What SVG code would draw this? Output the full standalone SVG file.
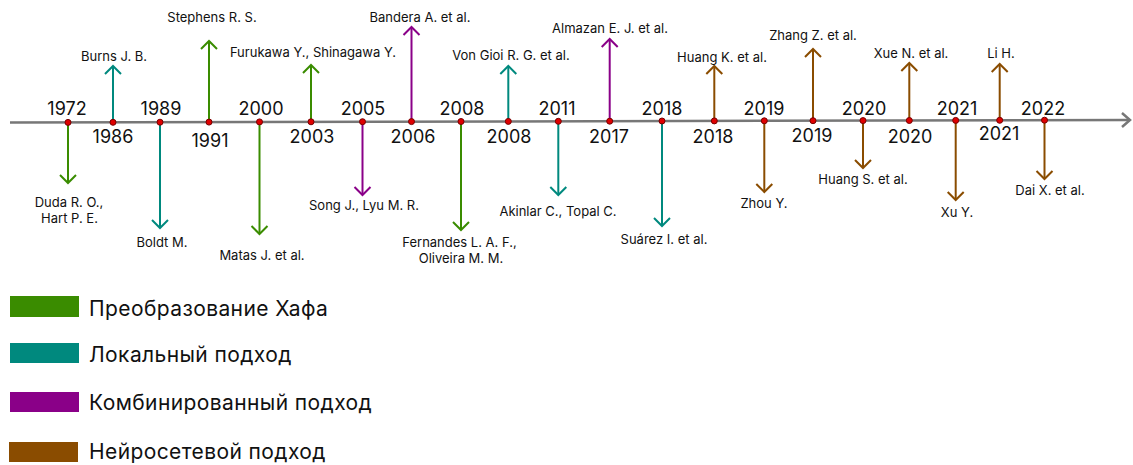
<svg xmlns="http://www.w3.org/2000/svg" width="1133" height="465" viewBox="0 0 1133 465">
<style>
text{font-family:Inter,"Noto Sans","Liberation Sans",sans-serif;fill:#111}
.yr{font-size:18px;text-anchor:middle}
.lb{font-size:13px;text-anchor:middle}
.lg{font-size:21px;letter-spacing:0.4px}
.a{stroke-width:2;fill:none}
.g{stroke:#3a8c00}.t{stroke:#00897e}.p{stroke:#8a0088}.b{stroke:#8a4c00}
.dot{fill:#e00000;stroke:#700;stroke-width:1}
</style>
<defs>
<marker id="mg" markerUnits="userSpaceOnUse" viewBox="-12 -12 24 24" markerWidth="24" markerHeight="24" refX="0" refY="0" orient="auto"><path d="M-8,-8 L0,0 L-8,8" fill="none" stroke="#3a8c00" stroke-width="2"/></marker>
<marker id="mt" markerUnits="userSpaceOnUse" viewBox="-12 -12 24 24" markerWidth="24" markerHeight="24" refX="0" refY="0" orient="auto"><path d="M-8,-8 L0,0 L-8,8" fill="none" stroke="#00897e" stroke-width="2"/></marker>
<marker id="mp" markerUnits="userSpaceOnUse" viewBox="-12 -12 24 24" markerWidth="24" markerHeight="24" refX="0" refY="0" orient="auto"><path d="M-8,-8 L0,0 L-8,8" fill="none" stroke="#8a0088" stroke-width="2"/></marker>
<marker id="mb" markerUnits="userSpaceOnUse" viewBox="-12 -12 24 24" markerWidth="24" markerHeight="24" refX="0" refY="0" orient="auto"><path d="M-8,-8 L0,0 L-8,8" fill="none" stroke="#8a4c00" stroke-width="2"/></marker>
<marker id="mx" markerUnits="userSpaceOnUse" viewBox="-12 -12 24 24" markerWidth="24" markerHeight="24" refX="0" refY="0" orient="auto"><path d="M-8,-7 L0,0 L-8,7" fill="none" stroke="#777" stroke-width="2.5"/></marker>
</defs>
<g id="connectors">
<line x1="10" y1="122.5" x2="1130" y2="120" stroke="#777" stroke-width="2.5" marker-end="url(#mx)"/>
<line class="a g" x1="68" y1="122.4" x2="68" y2="183" marker-end="url(#mg)"/>
<line class="a t" x1="113" y1="122.3" x2="113" y2="66" marker-end="url(#mt)"/>
<line class="a t" x1="160" y1="122.2" x2="160" y2="228" marker-end="url(#mt)"/>
<line class="a g" x1="209" y1="122.1" x2="209" y2="41" marker-end="url(#mg)"/>
<line class="a g" x1="259.5" y1="121.9" x2="259.5" y2="234" marker-end="url(#mg)"/>
<line class="a g" x1="311" y1="121.8" x2="311" y2="65" marker-end="url(#mg)"/>
<line class="a p" x1="362.5" y1="121.7" x2="362.5" y2="195" marker-end="url(#mp)"/>
<line class="a p" x1="411.5" y1="121.6" x2="411.5" y2="27" marker-end="url(#mp)"/>
<line class="a g" x1="461" y1="121.5" x2="461" y2="230" marker-end="url(#mg)"/>
<line class="a t" x1="508.3" y1="121.4" x2="508.3" y2="66" marker-end="url(#mt)"/>
<line class="a t" x1="558.3" y1="121.3" x2="558.3" y2="195" marker-end="url(#mt)"/>
<line class="a p" x1="609.7" y1="121.2" x2="609.7" y2="39" marker-end="url(#mp)"/>
<line class="a t" x1="662" y1="121" x2="662" y2="226" marker-end="url(#mt)"/>
<line class="a b" x1="714.3" y1="120.9" x2="714.3" y2="66" marker-end="url(#mb)"/>
<line class="a b" x1="764.3" y1="120.8" x2="764.3" y2="192" marker-end="url(#mb)"/>
<line class="a b" x1="813" y1="120.7" x2="813" y2="49" marker-end="url(#mb)"/>
<line class="a b" x1="863" y1="120.6" x2="863" y2="168" marker-end="url(#mb)"/>
<line class="a b" x1="909.3" y1="120.5" x2="909.3" y2="63" marker-end="url(#mb)"/>
<line class="a b" x1="955.7" y1="120.4" x2="955.7" y2="200" marker-end="url(#mb)"/>
<line class="a b" x1="999.7" y1="120.3" x2="999.7" y2="64" marker-end="url(#mb)"/>
<line class="a b" x1="1044.5" y1="120.2" x2="1044.5" y2="179" marker-end="url(#mb)"/>
</g>
<g id="n1972"><circle class="dot" cx="68" cy="122.4" r="3"/><text class="yr" x="67" y="115">1972</text><text class="lb" x="69" y="207">Duda R. O.,</text><text class="lb" x="69.5" y="223">Hart P. E.</text></g>
<g id="n1986"><circle class="dot" cx="113" cy="122.3" r="3"/><text class="yr" x="113" y="143">1986</text><text class="lb" x="114" y="61">Burns J. B.</text></g>
<g id="n1989"><circle class="dot" cx="160" cy="122.2" r="3"/><text class="yr" x="161" y="115">1989</text><text class="lb" x="162" y="247">Boldt M.</text></g>
<g id="n1991"><circle class="dot" cx="209" cy="122.1" r="3"/><text class="yr" x="210" y="147">1991</text><text class="lb" x="212" y="22">Stephens R. S.</text></g>
<g id="n2000"><circle class="dot" cx="259.5" cy="121.9" r="3"/><text class="yr" x="261" y="115">2000</text><text class="lb" x="262" y="260">Matas J. et al.</text></g>
<g id="n2003"><circle class="dot" cx="311" cy="121.8" r="3"/><text class="yr" x="312" y="143">2003</text><text class="lb" x="313" y="57">Furukawa Y., Shinagawa Y.</text></g>
<g id="n2005"><circle class="dot" cx="362.5" cy="121.7" r="3"/><text class="yr" x="363" y="115">2005</text><text class="lb" x="364" y="210">Song J., Lyu M. R.</text></g>
<g id="n2006"><circle class="dot" cx="411.5" cy="121.6" r="3"/><text class="yr" x="413" y="143">2006</text><text class="lb" x="420" y="22">Bandera A. et al.</text></g>
<g id="n2008a"><circle class="dot" cx="461" cy="121.5" r="3"/><text class="yr" x="462" y="115">2008</text><text class="lb" x="459.5" y="247">Fernandes L. A. F.,</text><text class="lb" x="461" y="263">Oliveira M. M.</text></g>
<g id="n2008b"><circle class="dot" cx="508.3" cy="121.4" r="3"/><text class="yr" x="509" y="143">2008</text><text class="lb" x="511" y="60">Von Gioi R. G. et al.</text></g>
<g id="n2011"><circle class="dot" cx="558.3" cy="121.3" r="3"/><text class="yr" x="557" y="115">2011</text><text class="lb" x="558" y="216">Akinlar C., Topal C.</text></g>
<g id="n2017"><circle class="dot" cx="609.7" cy="121.2" r="3"/><text class="yr" x="609" y="143">2017</text><text class="lb" x="610" y="33">Almazan E. J. et al.</text></g>
<g id="n2018a"><circle class="dot" cx="662" cy="121" r="3"/><text class="yr" x="662" y="115">2018</text><text class="lb" x="664" y="244">Suárez I. et al.</text></g>
<g id="n2018b"><circle class="dot" cx="714.3" cy="120.9" r="3"/><text class="yr" x="713" y="143">2018</text><text class="lb" x="722" y="62">Huang K. et al.</text></g>
<g id="n2019a"><circle class="dot" cx="764.3" cy="120.8" r="3"/><text class="yr" x="764" y="115">2019</text><text class="lb" x="764" y="208">Zhou Y.</text></g>
<g id="n2019b"><circle class="dot" cx="813" cy="120.7" r="3"/><text class="yr" x="812" y="142">2019</text><text class="lb" x="813" y="40">Zhang Z. et al.</text></g>
<g id="n2020a"><circle class="dot" cx="863" cy="120.6" r="3"/><text class="yr" x="864" y="115">2020</text><text class="lb" x="863" y="184">Huang S. et al.</text></g>
<g id="n2020b"><circle class="dot" cx="909.3" cy="120.5" r="3"/><text class="yr" x="910" y="143">2020</text><text class="lb" x="911" y="58">Xue N. et al.</text></g>
<g id="n2021a"><circle class="dot" cx="955.7" cy="120.4" r="3"/><text class="yr" x="957" y="115">2021</text><text class="lb" x="957" y="217">Xu Y.</text></g>
<g id="n2021b"><circle class="dot" cx="999.7" cy="120.3" r="3"/><text class="yr" x="999" y="140">2021</text><text class="lb" x="1001" y="58">Li H.</text></g>
<g id="n2022"><circle class="dot" cx="1044.5" cy="120.2" r="3"/><text class="yr" x="1043" y="115">2022</text><text class="lb" x="1050" y="195">Dai X. et al.</text></g>
<g id="legend">
<rect x="10" y="296" width="69" height="21" fill="#3a8c00"/><text class="lg" x="89" y="316">Преобразование Хафа</text>
<rect x="10" y="343" width="69" height="20" fill="#00897e"/><text class="lg" x="89" y="362">Локальный подход</text>
<rect x="10" y="392" width="69" height="20" fill="#8a0088"/><text class="lg" x="89" y="410">Комбинированный подход</text>
<rect x="9" y="442" width="69" height="20" fill="#8a4c00"/><text class="lg" x="89" y="459">Нейросетевой подход</text>
</g>
</svg>
